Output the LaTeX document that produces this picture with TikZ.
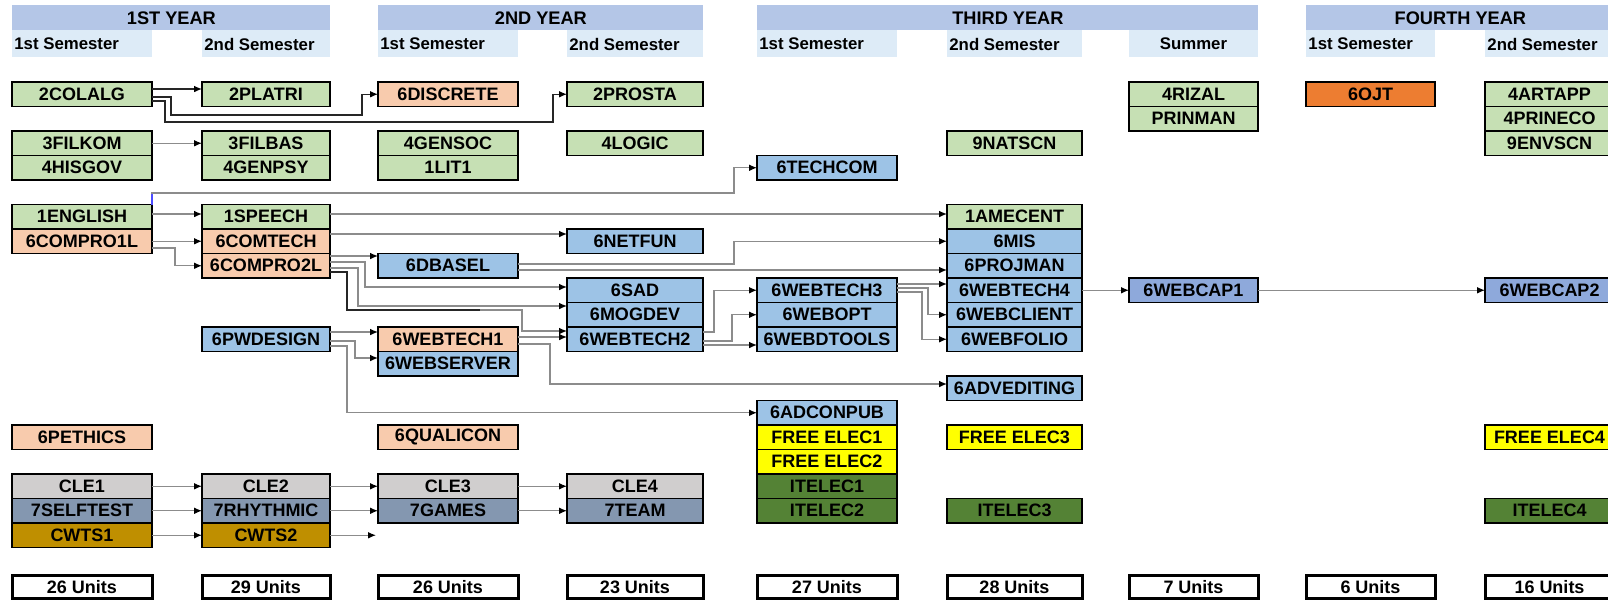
\documentclass[tikz,border=0pt]{standalone}
\usepackage{fontspec}
\setmainfont{Liberation Sans}
\usepackage{xcolor}
\usetikzlibrary{arrows.meta}

\definecolor{hdrblu}{HTML}{B4C6E7}
\definecolor{subblu}{HTML}{DDEBF7}
\definecolor{grn}{HTML}{C6E0B4}
\definecolor{pch}{HTML}{F8CBAD}
\definecolor{blu}{HTML}{9DC3E6}
\definecolor{capblu}{HTML}{8EA9DB}
\definecolor{ornge}{HTML}{ED7D31}
\definecolor{ylw}{HTML}{FFFF00}
\definecolor{dgr}{HTML}{548235}
\definecolor{clegry}{HTML}{D0CECE}
\definecolor{slt}{HTML}{8497B0}
\definecolor{cwt}{HTML}{BF8F00}

\begin{document}
\begin{tikzpicture}[x=0.5pt, y=-0.5pt,
  course/.style={draw, line width=0.8pt, outer sep=0pt, inner sep=0pt, anchor=north west,
    minimum height=12.25pt, font=\bfseries\fontsize{9}{10}\selectfont},
  units/.style={course, line width=1.5pt, minimum height=11.75pt, fill=white},
  link/.style={draw=black!45, line width=0.65pt, -{Latex[black,length=4pt,width=3.4pt]}},
  dlink/.style={link, draw=black!85}]
  \useasboundingbox (0,0) rectangle (1608,601);
  \clip (0,0) rectangle (1608,601);
  \def\colL{{12,202,378,567,757,947,1129,1306,1485}}
  \def\colW{{140,128,140,136,140,135,129,129,129}}
  % year headers
  \foreach \nm/\a/\b/\t in {yra/12/330/1ST YEAR, yrb/378/703/2ND YEAR, yrc/757/1258/THIRD YEAR, yrd/1306/1614/FOURTH YEAR} {
    \pgfmathsetmacro{\bw}{(\b-\a)/2}
    \node[anchor=north west, inner sep=0pt, fill=hdrblu, minimum width=\bw pt, minimum height=12.5pt,
      font=\bfseries\fontsize{9.1}{10}\selectfont] (\nm) at (\a,5) {\t};
  }
  % semester labels
  \foreach \c/\t in {1/1st Semester, 2/2nd Semester, 3/1st Semester, 4/2nd Semester,
                     5/1st Semester, 6/2nd Semester, 8/1st Semester, 9/2nd Semester} {
    \pgfmathsetmacro{\xl}{\colL[\c-1]}
    \pgfmathsetmacro{\cw}{\colW[\c-1]}
    \fill[subblu] (\xl,30) rectangle ++(\cw,27);
    \node[anchor=west, inner sep=0pt, font=\bfseries\fontsize{8.4}{10}\selectfont] (sem\c) at (\xl+2,44) {\t};
  }
  \fill[subblu] (1129,30) rectangle (1258,57);
  \node[inner sep=0pt, font=\bfseries\fontsize{8.4}{10}\selectfont] (sem7) at (1193.5,44) {Summer};
  % courses: column/row/name/text/colour
  \foreach \c/\r/\nm/\t/\clr in {
    1/0/colalg/2COLALG/grn, 2/0/platri/2PLATRI/grn, 3/0/discrete/6DISCRETE/pch, 4/0/prosta/2PROSTA/grn,
    7/0/rizal/4RIZAL/grn, 7/1/prinman/PRINMAN/grn, 8/0/ojt/6OJT/ornge,
    9/0/artapp/4ARTAPP/grn, 9/1/prineco/4PRINECO/grn, 9/2/envscn/9ENVSCN/grn,
    1/2/filkom/3FILKOM/grn, 1/3/hisgov/4HISGOV/grn, 2/2/filbas/3FILBAS/grn, 2/3/genpsy/4GENPSY/grn,
    3/2/gensoc/4GENSOC/grn, 3/3/lit/1LIT1/grn, 4/2/logic/4LOGIC/grn, 6/2/natscn/9NATSCN/grn,
    5/3/techcom/6TECHCOM/blu,
    1/5/eng/1ENGLISH/grn, 1/6/proa/6COMPRO1L/pch,
    2/5/speech/1SPEECH/grn, 2/6/comtech/6COMTECH/pch, 2/7/prob/6COMPRO2L/pch,
    3/7/dbasel/6DBASEL/blu, 4/6/netfun/6NETFUN/blu,
    6/5/amecent/1AMECENT/grn, 6/6/mis/6MIS/blu, 6/7/projman/6PROJMAN/blu,
    6/8/webtechd/6WEBTECH4/blu, 6/9/webclient/6WEBCLIENT/blu, 6/10/webfolio/6WEBFOLIO/blu,
    4/8/sad/6SAD/blu, 4/9/mogdev/6MOGDEV/blu, 4/10/webtechb/6WEBTECH2/blu,
    5/8/webtechc/6WEBTECH3/blu, 5/9/webopt/6WEBOPT/blu, 5/10/webdtools/6WEBDTOOLS/blu,
    7/8/webcapa/6WEBCAP1/capblu, 9/8/webcapb/6WEBCAP2/capblu,
    2/10/pwdesign/6PWDESIGN/blu, 3/10/webtecha/6WEBTECH1/pch, 3/11/webserver/6WEBSERVER/blu,
    6/12/advediting/6ADVEDITING/blu,
    5/13/adconpub/6ADCONPUB/blu, 5/14/freea/FREE ELEC1/ylw, 5/15/freeb/FREE ELEC2/ylw,
    5/16/iteleca/ITELEC1/dgr, 5/17/itelecb/ITELEC2/dgr,
    6/14/freec/FREE ELEC3/ylw, 6/17/itelecc/ITELEC3/dgr,
    9/14/freed/FREE ELEC4/ylw, 9/17/itelecd/ITELEC4/dgr,
    1/14/pethics/6PETHICS/pch, 3/14/qualicon/6QUALICON/pch,
    1/16/clea/CLE1/clegry, 1/17/selftest/7SELFTEST/slt, 1/18/cwtsa/CWTS1/cwt,
    2/16/cleb/CLE2/clegry, 2/17/rhythmic/7RHYTHMIC/slt, 2/18/cwtsb/CWTS2/cwt,
    3/16/clec/CLE3/clegry, 3/17/games/7GAMES/slt,
    4/16/cled/CLE4/clegry, 4/17/team/7TEAM/slt} {
    \pgfmathsetmacro{\xl}{\colL[\c-1]}
    \pgfmathsetmacro{\bw}{\colW[\c-1]/2}
    \pgfmathsetmacro{\yt}{82+24.5*\r}
    \node[course, fill=\clr, minimum width=\bw pt] (\nm) at (\xl,\yt) {\t};
  }
  % units
  \foreach \c/\unt in {1/26,2/29,3/26,4/23,5/27,6/28,7/7,8/6,9/16} {
    \pgfmathsetmacro{\xl}{\colL[\c-1]}
    \pgfmathsetmacro{\bw}{\colW[\c-1]/2}
    \node[units, minimum width=\bw pt] (unit\c) at (\xl,575) {\unt\ Units};
  }
  % prerequisites
  \draw[dlink] (colalg.east |- 0,89) -- (platri.west |- 0,89);
  \draw[dlink] (colalg.east |- 0,97) -| (171,115) -| (362,94.25) -- (discrete.west);
  \draw[dlink] (colalg.east |- 0,101) -| (165,122) -| (553,94.25) -- (prosta.west);
  \draw[link] (filkom.east) -- (filbas.west);
  \draw[link] (eng.north east) |- (734,193) |- (techcom.west);
  \draw[blue!70, line width=0.65pt] (eng.north east) -- ++(0,-11);
  \draw[link] (eng.east |- 0,214) -- (speech.west |- 0,214);
  \draw[link] (proa.east) -- (comtech.west);
  \draw[link] (proa.east |- 0,248) -| (175,265.75) -- (prob.west);
  \draw[link] (speech.east |- 0,214) -- (amecent.west |- 0,214);
  \draw[link] (comtech.east |- 0,234) -- (netfun.west |- 0,234);
  \draw[link] (prob.east |- 0,256) -- (dbasel.west |- 0,256);
  \draw[link] (prob.east |- 0,262) -| (365,287) -- (sad.west |- 0,287);
  \draw[link] (prob.east |- 0,268) -| (358,306) -- (mogdev.west |- 0,306);
  \draw[link] (prob.east |- 0,272) -| (347,310) -| (522,331) -- (webtechb.west |- 0,331);
  \draw[black!85, line width=0.65pt] (prob.east |- 0,272) -| (347,310) -- (480,310);
  \draw[link] (dbasel.east |- 0,264) -| (734,241.25) -- (mis.west);
  \draw[link] (dbasel.east |- 0,270) -- (projman.west |- 0,270);
  \draw[link] (pwdesign.east |- 0,332) -- (webtecha.west |- 0,332);
  \draw[link] (pwdesign.east |- 0,341) -| (355,358) -- (webserver.west |- 0,358);
  \draw[link] (pwdesign.east |- 0,346) -| (347,412.75) -- (adconpub.west);
  \draw[link] (webtecha.east |- 0,337) -- (webtechb.west |- 0,337);
  \draw[link] (webtecha.east |- 0,344) -| (550,384) -- (advediting.west |- 0,384);
  \draw[link] (webtechb.east |- 0,332) -| (714,290.25) -- (webtechc.west);
  \draw[link] (webtechb.east |- 0,341) -| (732,314.75) -- (webopt.west);
  \draw[link] (webtechb.east |- 0,345) -- (webdtools.west |- 0,345);
  \draw[link] (webtechc.east |- 0,284) -- (webtechd.west |- 0,284);
  \draw[link] (webtechc.east |- 0,288) -| (928,314.75) -- (webclient.west);
  \draw[link] (webtechc.east |- 0,292) -| (922,339.25) -- (webfolio.west);
  \draw[link] (webtechd.east) -- (webcapa.west);
  \draw[link] (webcapa.east) -- (webcapb.west);
  \foreach \a/\b in {clea/cleb, cleb/clec, clec/cled, selftest/rhythmic, rhythmic/games, games/team, cwtsa/cwtsb} {
    \draw[link] (\a.east) -- (\b.west);
  }
  \coordinate (cwtsend) at (376,535.25);
  \draw[link] (cwtsb.east) -- (cwtsend);
\end{tikzpicture}
\end{document}
